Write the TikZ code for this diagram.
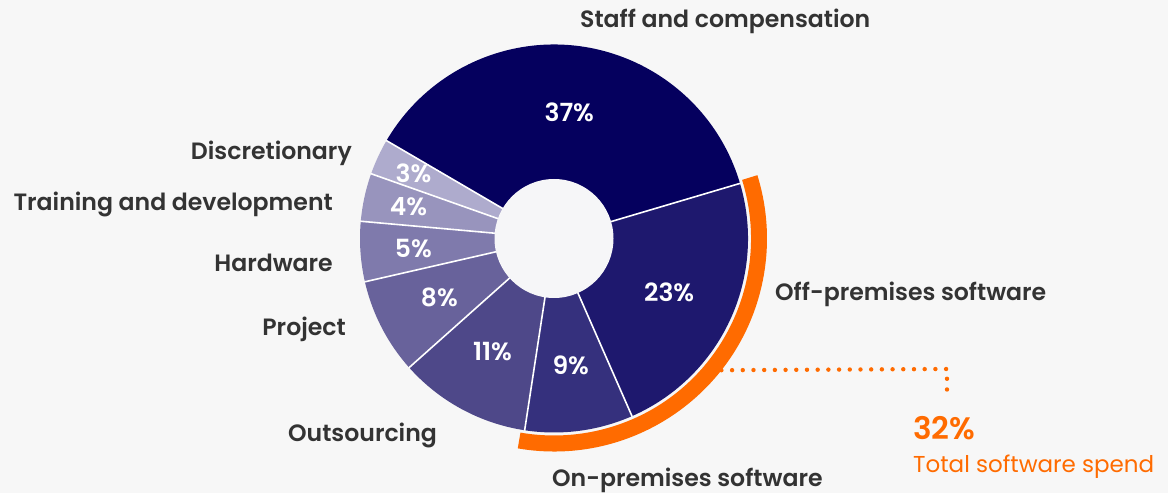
\documentclass[tikz,border=0pt]{standalone}
\usepackage{fontspec}
\usetikzlibrary{calc}
\setmainfont{Poppins}
\newfontfamily\labfont{Poppins}[UprightFont={* SemiBold}]
\definecolor{bgc}{HTML}{F7F7F7}
\definecolor{holec}{HTML}{F6F6F8}
\definecolor{txtc}{HTML}{333333}
\definecolor{orc}{HTML}{FF6B00}
\definecolor{cstaff}{HTML}{05005E}
\definecolor{coff}{HTML}{1E186E}
\definecolor{con}{HTML}{35307D}
\definecolor{cout}{HTML}{4E4889}
\definecolor{cproj}{HTML}{68629B}
\definecolor{chard}{HTML}{7F7AAC}
\definecolor{ctrain}{HTML}{9894BD}
\definecolor{cdisc}{HTML}{AEABCD}
\tikzset{
  catlabel/.style={font=\labfont\fontsize{23.6}{24}\selectfont, text=txtc, inner sep=0pt},
  pctlabel/.style={font=\labfont\fontsize{25}{25}\selectfont, text=white, inner sep=0pt},
  seprule/.style={white, line width=1.6pt},
}
\begin{document}
\begin{tikzpicture}[x=1pt,y=1pt]
\fill[bgc] (0,0) rectangle (1168,493);
\useasboundingbox (0,0) rectangle (1168,493);
\coordinate (c) at (554,254.5);
\def\R{194}
\def\r{59.5}
% slices
\foreach \a/\b/\col in {16.5/149.7/cstaff, 149.7/160.5/cdisc, 160.5/174.9/ctrain, 174.9/192.9/chard, 192.9/221.7/cproj, 221.7/261.3/cout, 261.3/293.7/con, 293.7/376.5/coff}{
  \fill[\col] (c) -- ++(\a:\R) arc[start angle=\a, end angle=\b, radius=\R] -- cycle;
}
\foreach \a in {16.5,149.7,160.5,174.9,192.9,221.7,261.3,293.7}{
  \draw[seprule] (c) -- ++(\a:\R+0.5);
}
\fill[holec] (c) circle[radius=\r];
% orange arc
\fill[orc] ($(c)+(17.3:197)$) arc[start angle=17.3, end angle=-99.8, radius=197] -- ($(c)+(-99.8:213)$) arc[start angle=-99.8, end angle=17.3, radius=213] -- cycle;
% percent labels
\node[pctlabel] (p37) at ($(c)+(83.1:127)$) {37\%};
\node[pctlabel] (p23) at ($(c)+(-24.9:127)$) {23\%};
\node[pctlabel] (p9) at ($(c)+(-82.5:128)$) {9\%};
\node[pctlabel] (p11) at ($(c)+(-118.5:129)$) {11\%};
\node[pctlabel] (p8) at ($(c)+(-152.7:129)$) {8\%};
\node[pctlabel] (p5) at ($(c)+(-176.1:141)$) {5\%};
\node[pctlabel] (p4) at ($(c)+(167.7:149)$) {4\%};
\node[pctlabel] (p3) at ($(c)+(155.1:155)$) {3\%};
% category labels
\node[catlabel, anchor=base west] (staff) at (580,465) {Staff and compensation};
\node[catlabel, anchor=base east] (disc) at (352,333) {Discretionary};
\node[catlabel, anchor=base east] (train) at (333,282) {Training and development};
\node[catlabel, anchor=base east] (hard) at (333,221) {Hardware};
\node[catlabel, anchor=base east] (proj) at (346,157) {Project};
\node[catlabel, anchor=base west] (outs) at (288,52) {Outsourcing};
\node[catlabel, anchor=base west] (onp) at (552,7) {On-premises software};
\node[catlabel, anchor=base west] (offp) at (775,192) {Off-premises software};
% total software
\coordinate (dstart) at ($(c)+(-38.2:213)$);
\coordinate (dcorner) at (947,124);
\coordinate (dend) at (947,93);
\draw[orc, line width=4.4pt, line cap=round, dash pattern=on 0pt off 10.7pt] (dstart) -- (dcorner) -- (dend);
\node[font=\labfont\fontsize{31}{31}\selectfont, text=orc, inner sep=0pt, anchor=base west] (tot) at (913,53) {32\%};
\node[font=\fontsize{23}{23}\selectfont, text=orc, inner sep=0pt, anchor=base west] (totl) at (913,20) {Total software spend};
\end{tikzpicture}
\end{document}
